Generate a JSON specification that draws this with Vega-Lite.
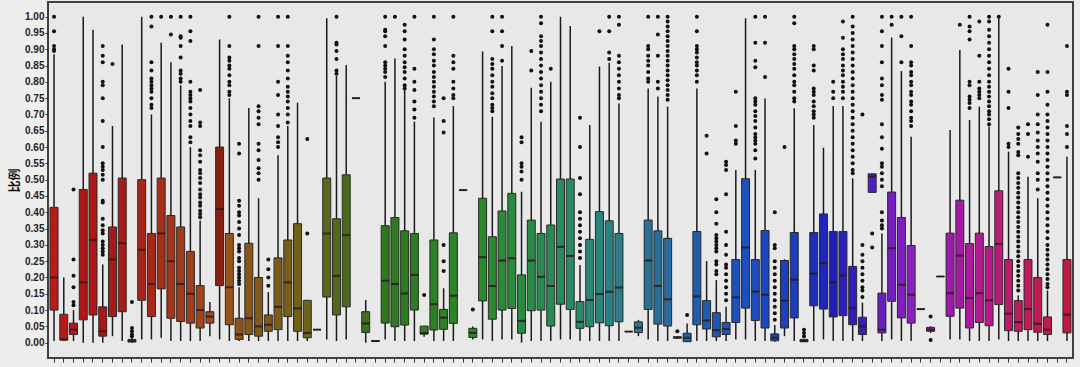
{
"$schema": "https://vega.github.io/schema/vega-lite/v6.json",
"width": 1025, "height": 356,
"autosize": {"type": "none"},
"padding": {"left": 48, "top": 2, "right": 7, "bottom": 9},
"background": "#eeeeec",
"config": {"view": {"fill": "#e8e8e8", "stroke": "#404040", "strokeWidth": 2},
"axisY": {"tickCount": 21, "labelOverlap": false, "labelFont": "Liberation Sans", "labelFontSize": 10, "labelFontWeight": "bold", "labelColor": "#222222", "tickSize": 3, "labelPadding": 1, "tickColor": "#333333", "domain": false, "grid": false, "format": ".2f"}},
"datasets": {
"boxes": [
{"id":1,"lo":0.005,"q1":0.10,"med":0.20,"q3":0.415,"hi":0.885},
{"id":2,"lo":0.005,"q1":0.008,"med":0.01,"q3":0.087,"hi":0.20},
{"id":3,"lo":0.005,"q1":0.025,"med":0.04,"q3":0.06,"hi":0.10},
{"id":4,"lo":0.0,"q1":0.07,"med":0.185,"q3":0.47,"hi":1.0},
{"id":5,"lo":0.0,"q1":0.085,"med":0.315,"q3":0.52,"hi":0.96},
{"id":6,"lo":0.0,"q1":0.02,"med":0.035,"q3":0.11,"hi":0.24},
{"id":7,"lo":0.02,"q1":0.08,"med":0.255,"q3":0.355,"hi":0.665},
{"id":8,"lo":0.005,"q1":0.095,"med":0.305,"q3":0.505,"hi":0.915},
{"id":9,"lo":0.0,"q1":0.002,"med":0.005,"q3":0.01,"hi":0.015},
{"id":10,"lo":0.01,"q1":0.13,"med":0.285,"q3":0.50,"hi":1.0},
{"id":11,"lo":0.01,"q1":0.08,"med":0.18,"q3":0.335,"hi":0.70},
{"id":12,"lo":0.015,"q1":0.165,"med":0.335,"q3":0.505,"hi":0.92},
{"id":13,"lo":0.005,"q1":0.075,"med":0.25,"q3":0.39,"hi":0.86},
{"id":14,"lo":0.005,"q1":0.065,"med":0.18,"q3":0.355,"hi":0.79},
{"id":15,"lo":0.005,"q1":0.06,"med":0.15,"q3":0.28,"hi":0.60},
{"id":16,"lo":0.005,"q1":0.045,"med":0.10,"q3":0.175,"hi":0.375},
{"id":17,"lo":0.02,"q1":0.06,"med":0.08,"q3":0.095,"hi":0.125},
{"id":18,"lo":0.01,"q1":0.175,"med":0.41,"q3":0.60,"hi":0.93},
{"id":19,"lo":0.005,"q1":0.055,"med":0.17,"q3":0.335,"hi":0.75},
{"id":20,"lo":0.005,"q1":0.01,"med":0.025,"q3":0.075,"hi":0.17},
{"id":21,"lo":0.005,"q1":0.025,"med":0.075,"q3":0.305,"hi":0.72},
{"id":22,"lo":0.005,"q1":0.02,"med":0.05,"q3":0.20,"hi":0.443},
{"id":23,"lo":0.005,"q1":0.035,"med":0.055,"q3":0.085,"hi":0.155},
{"id":24,"lo":0.005,"q1":0.04,"med":0.11,"q3":0.26,"hi":0.575},
{"id":25,"lo":0.005,"q1":0.08,"med":0.185,"q3":0.315,"hi":0.665},
{"id":26,"lo":0.005,"q1":0.035,"med":0.105,"q3":0.365,"hi":0.736},
{"id":27,"lo":0.005,"q1":0.015,"med":0.03,"q3":0.13,"hi":0.13},
{"id":28,"lo":0.04,"q1":0.04,"med":0.04,"q3":0.04,"hi":0.04},
{"id":29,"lo":0.01,"q1":0.14,"med":0.335,"q3":0.505,"hi":0.995},
{"id":30,"lo":0.005,"q1":0.085,"med":0.205,"q3":0.38,"hi":0.818},
{"id":31,"lo":0.01,"q1":0.11,"med":0.33,"q3":0.515,"hi":0.852},
{"id":32,"lo":0.75,"q1":0.75,"med":0.75,"q3":0.75,"hi":0.75},
{"id":33,"lo":0.0,"q1":0.031,"med":0.059,"q3":0.095,"hi":0.131},
{"id":34,"lo":0.004,"q1":0.004,"med":0.005,"q3":0.006,"hi":0.006},
{"id":35,"lo":0.01,"q1":0.06,"med":0.19,"q3":0.359,"hi":0.80},
{"id":36,"lo":0.005,"q1":0.049,"med":0.18,"q3":0.384,"hi":0.872},
{"id":37,"lo":0.005,"q1":0.054,"med":0.151,"q3":0.343,"hi":0.775},
{"id":38,"lo":0.005,"q1":0.10,"med":0.208,"q3":0.335,"hi":0.678},
{"id":39,"lo":0.018,"q1":0.026,"med":0.03,"q3":0.051,"hi":0.051},
{"id":40,"lo":0.005,"q1":0.039,"med":0.118,"q3":0.315,"hi":0.691},
{"id":41,"lo":0.005,"q1":0.041,"med":0.077,"q3":0.102,"hi":0.167},
{"id":42,"lo":0.005,"q1":0.059,"med":0.144,"q3":0.337,"hi":0.726},
{"id":43,"lo":0.468,"q1":0.468,"med":0.468,"q3":0.468,"hi":0.468},
{"id":44,"lo":0.01,"q1":0.016,"med":0.03,"q3":0.044,"hi":0.05},
{"id":45,"lo":0.01,"q1":0.128,"med":0.262,"q3":0.443,"hi":0.893},
{"id":46,"lo":0.005,"q1":0.072,"med":0.174,"q3":0.325,"hi":0.693},
{"id":47,"lo":0.01,"q1":0.10,"med":0.252,"q3":0.404,"hi":0.849},
{"id":48,"lo":0.01,"q1":0.105,"med":0.259,"q3":0.458,"hi":0.91},
{"id":49,"lo":0.0,"q1":0.029,"med":0.067,"q3":0.208,"hi":0.463},
{"id":50,"lo":0.005,"q1":0.098,"med":0.252,"q3":0.376,"hi":0.782},
{"id":51,"lo":0.005,"q1":0.10,"med":0.202,"q3":0.335,"hi":0.678},
{"id":52,"lo":0.005,"q1":0.051,"med":0.174,"q3":0.361,"hi":0.80},
{"id":53,"lo":0.01,"q1":0.118,"med":0.294,"q3":0.502,"hi":1.0},
{"id":54,"lo":0.01,"q1":0.102,"med":0.266,"q3":0.502,"hi":0.971},
{"id":55,"lo":0.005,"q1":0.044,"med":0.064,"q3":0.126,"hi":0.238},
{"id":56,"lo":0.005,"q1":0.049,"med":0.131,"q3":0.317,"hi":0.668},
{"id":57,"lo":0.005,"q1":0.061,"med":0.149,"q3":0.402,"hi":0.847},
{"id":58,"lo":0.005,"q1":0.052,"med":0.156,"q3":0.374,"hi":0.859},
{"id":59,"lo":0.005,"q1":0.064,"med":0.169,"q3":0.335,"hi":0.734},
{"id":60,"lo":0.034,"q1":0.034,"med":0.034,"q3":0.034,"hi":0.034},
{"id":61,"lo":0.02,"q1":0.031,"med":0.046,"q3":0.064,"hi":0.07},
{"id":62,"lo":0.01,"q1":0.102,"med":0.252,"q3":0.376,"hi":0.78},
{"id":63,"lo":0.005,"q1":0.057,"med":0.174,"q3":0.343,"hi":0.755},
{"id":64,"lo":0.005,"q1":0.051,"med":0.133,"q3":0.32,"hi":0.724},
{"id":65,"lo":0.012,"q1":0.014,"med":0.016,"q3":0.018,"hi":0.02},
{"id":66,"lo":0.003,"q1":0.003,"med":0.015,"q3":0.029,"hi":0.059},
{"id":67,"lo":0.005,"q1":0.055,"med":0.142,"q3":0.341,"hi":0.78},
{"id":68,"lo":0.005,"q1":0.042,"med":0.068,"q3":0.129,"hi":0.25},
{"id":69,"lo":0.005,"q1":0.018,"med":0.038,"q3":0.092,"hi":0.192},
{"id":70,"lo":0.005,"q1":0.025,"med":0.042,"q3":0.062,"hi":0.11},
{"id":71,"lo":0.01,"q1":0.062,"med":0.139,"q3":0.255,"hi":0.53},
{"id":72,"lo":0.01,"q1":0.106,"med":0.292,"q3":0.503,"hi":0.995},
{"id":73,"lo":0.005,"q1":0.068,"med":0.157,"q3":0.255,"hi":0.53},
{"id":74,"lo":0.005,"q1":0.045,"med":0.147,"q3":0.344,"hi":0.749},
{"id":75,"lo":0.003,"q1":0.006,"med":0.015,"q3":0.027,"hi":0.054},
{"id":76,"lo":0.02,"q1":0.045,"med":0.129,"q3":0.252,"hi":0.256},
{"id":77,"lo":0.005,"q1":0.076,"med":0.193,"q3":0.338,"hi":0.719},
{"id":78,"lo":0.002,"q1":0.003,"med":0.005,"q3":0.01,"hi":0.012},
{"id":79,"lo":0.005,"q1":0.113,"med":0.212,"q3":0.338,"hi":0.668},
{"id":80,"lo":0.01,"q1":0.103,"med":0.244,"q3":0.395,"hi":0.598},
{"id":81,"lo":0.005,"q1":0.079,"med":0.185,"q3":0.341,"hi":0.726},
{"id":82,"lo":0.005,"q1":0.083,"med":0.206,"q3":0.341,"hi":0.726},
{"id":83,"lo":0.005,"q1":0.055,"med":0.106,"q3":0.234,"hi":0.504},
{"id":84,"lo":0.005,"q1":0.025,"med":0.05,"q3":0.078,"hi":0.123},
{"id":85,"lo":0.461,"q1":0.461,"med":0.51,"q3":0.518,"hi":0.518},
{"id":86,"lo":0.005,"q1":0.030,"med":0.040,"q3":0.152,"hi":0.335},
{"id":87,"lo":0.01,"q1":0.127,"med":0.290,"q3":0.462,"hi":0.936},
{"id":88,"lo":0.005,"q1":0.076,"med":0.178,"q3":0.384,"hi":0.833},
{"id":89,"lo":0.005,"q1":0.060,"med":0.147,"q3":0.298,"hi":0.632},
{"id":90,"lo":0.103,"q1":0.103,"med":0.103,"q3":0.103,"hi":0.103},
{"id":91,"lo":0.03,"q1":0.035,"med":0.04,"q3":0.047,"hi":0.05},
{"id":92,"lo":0.203,"q1":0.203,"med":0.203,"q3":0.203,"hi":0.203},
{"id":93,"lo":0.01,"q1":0.081,"med":0.152,"q3":0.336,"hi":0.652},
{"id":94,"lo":0.01,"q1":0.106,"med":0.267,"q3":0.437,"hi":0.898},
{"id":95,"lo":0.005,"q1":0.045,"med":0.137,"q3":0.304,"hi":0.683},
{"id":96,"lo":0.005,"q1":0.062,"med":0.152,"q3":0.336,"hi":0.724},
{"id":97,"lo":0.005,"q1":0.052,"med":0.130,"q3":0.295,"hi":0.663},
{"id":98,"lo":0.01,"q1":0.117,"med":0.303,"q3":0.466,"hi":0.995},
{"id":99,"lo":0.005,"q1":0.037,"med":0.089,"q3":0.255,"hi":0.586},
{"id":100,"lo":0.005,"q1":0.035,"med":0.063,"q3":0.129,"hi":0.145},
{"id":101,"lo":0.005,"q1":0.040,"med":0.103,"q3":0.255,"hi":0.509},
{"id":102,"lo":0.005,"q1":0.032,"med":0.058,"q3":0.200,"hi":0.443},
{"id":103,"lo":0.005,"q1":0.025,"med":0.040,"q3":0.079,"hi":0.16},
{"id":104,"lo":0.507,"q1":0.507,"med":0.507,"q3":0.507,"hi":0.507},
{"id":105,"lo":0.005,"q1":0.030,"med":0.086,"q3":0.255,"hi":0.57}
],
"outs": [
{"id":1,"v":1.0},{"id":1,"v":0.955},{"id":1,"v":0.91},{"id":1,"v":0.90},{"id":1,"v":0.895},
{"id":3,"v":0.47},{"id":3,"v":0.255},{"id":3,"v":0.205},{"id":3,"v":0.17},{"id":3,"v":0.125},{"id":3,"v":0.115},
{"id":6,"v":0.91},{"id":6,"v":0.88},{"id":6,"v":0.86},{"id":6,"v":0.80},{"id":6,"v":0.79},{"id":6,"v":0.75},{"id":6,"v":0.68},{"id":6,"v":0.60},{"id":6,"v":0.55},{"id":6,"v":0.54},{"id":6,"v":0.53},{"id":6,"v":0.515},{"id":6,"v":0.50},{"id":6,"v":0.435},{"id":6,"v":0.43},{"id":6,"v":0.38},{"id":6,"v":0.36},{"id":6,"v":0.345},{"id":6,"v":0.335},{"id":6,"v":0.31},{"id":6,"v":0.30},{"id":6,"v":0.29},{"id":6,"v":0.28},{"id":6,"v":0.27},
{"id":7,"v":0.855},
{"id":9,"v":0.125},{"id":9,"v":0.045},{"id":9,"v":0.035},{"id":9,"v":0.025},{"id":9,"v":0.02},
{"id":11,"v":1.0},{"id":11,"v":0.97},{"id":11,"v":0.86},{"id":11,"v":0.835},{"id":11,"v":0.81},{"id":11,"v":0.80},{"id":11,"v":0.79},{"id":11,"v":0.78},{"id":11,"v":0.77},{"id":11,"v":0.75},{"id":11,"v":0.73},{"id":11,"v":0.72},
{"id":12,"v":1.0},
{"id":13,"v":1.0},{"id":13,"v":0.945},
{"id":14,"v":1.0},{"id":14,"v":0.94},{"id":14,"v":0.935},{"id":14,"v":0.91},{"id":14,"v":0.875},{"id":14,"v":0.835},{"id":14,"v":0.825},{"id":14,"v":0.81},{"id":14,"v":0.80},
{"id":15,"v":1.0},{"id":15,"v":0.955},{"id":15,"v":0.925},{"id":15,"v":0.80},{"id":15,"v":0.77},{"id":15,"v":0.76},{"id":15,"v":0.75},{"id":15,"v":0.74},{"id":15,"v":0.72},{"id":15,"v":0.70},{"id":15,"v":0.68},{"id":15,"v":0.665},{"id":15,"v":0.63},{"id":15,"v":0.615},
{"id":16,"v":0.775},{"id":16,"v":0.675},{"id":16,"v":0.665},{"id":16,"v":0.59},{"id":16,"v":0.575},{"id":16,"v":0.555},{"id":16,"v":0.53},{"id":16,"v":0.52},{"id":16,"v":0.505},{"id":16,"v":0.49},{"id":16,"v":0.47},{"id":16,"v":0.455},{"id":16,"v":0.445},{"id":16,"v":0.43},{"id":16,"v":0.42},{"id":16,"v":0.405},{"id":16,"v":0.395},{"id":16,"v":0.385},
{"id":19,"v":1.0},{"id":19,"v":0.91},{"id":19,"v":0.875},{"id":19,"v":0.865},{"id":19,"v":0.85},{"id":19,"v":0.84},{"id":19,"v":0.82},{"id":19,"v":0.80},{"id":19,"v":0.79},{"id":19,"v":0.77},{"id":19,"v":0.76},
{"id":20,"v":0.61},{"id":20,"v":0.58},{"id":20,"v":0.435},{"id":20,"v":0.42},{"id":20,"v":0.40},{"id":20,"v":0.39},{"id":20,"v":0.37},{"id":20,"v":0.35},{"id":20,"v":0.33},{"id":20,"v":0.30},{"id":20,"v":0.29},{"id":20,"v":0.28},{"id":20,"v":0.26},{"id":20,"v":0.25},{"id":20,"v":0.23},{"id":20,"v":0.22},{"id":20,"v":0.21},{"id":20,"v":0.20},{"id":20,"v":0.19},{"id":20,"v":0.18},
{"id":22,"v":1.0},{"id":22,"v":0.91},{"id":22,"v":0.725},{"id":22,"v":0.71},{"id":22,"v":0.69},{"id":22,"v":0.67},{"id":22,"v":0.61},{"id":22,"v":0.59},{"id":22,"v":0.56},{"id":22,"v":0.535},{"id":22,"v":0.52},{"id":22,"v":0.50},
{"id":23,"v":0.255},{"id":23,"v":0.225},{"id":23,"v":0.20},{"id":23,"v":0.175},
{"id":24,"v":1.0},{"id":24,"v":0.91},{"id":24,"v":0.80},{"id":24,"v":0.76},{"id":24,"v":0.70},{"id":24,"v":0.665},{"id":24,"v":0.63},{"id":24,"v":0.615},{"id":24,"v":0.60},
{"id":25,"v":1.0},{"id":25,"v":0.91},{"id":25,"v":0.88},{"id":25,"v":0.86},{"id":25,"v":0.835},{"id":25,"v":0.81},{"id":25,"v":0.785},{"id":25,"v":0.77},{"id":25,"v":0.755},{"id":25,"v":0.74},{"id":25,"v":0.72},{"id":25,"v":0.70},{"id":25,"v":0.675},
{"id":27,"v":0.625},{"id":27,"v":0.335},
{"id":30,"v":1.0},{"id":30,"v":0.92},{"id":30,"v":0.915},{"id":30,"v":0.895},{"id":30,"v":0.87},{"id":30,"v":0.835},{"id":30,"v":0.825},
{"id":35,"v":1.0},{"id":35,"v":0.96},{"id":35,"v":0.955},{"id":35,"v":0.94},{"id":35,"v":0.91},{"id":35,"v":0.86},{"id":35,"v":0.85},{"id":35,"v":0.84},{"id":35,"v":0.83},{"id":35,"v":0.815},
{"id":36,"v":1.0},
{"id":37,"v":0.975},{"id":37,"v":0.955},{"id":37,"v":0.93},{"id":37,"v":0.90},{"id":37,"v":0.88},{"id":37,"v":0.86},{"id":37,"v":0.845},{"id":37,"v":0.83},{"id":37,"v":0.81},{"id":37,"v":0.79},{"id":37,"v":0.78},
{"id":38,"v":1.0},{"id":38,"v":0.84},{"id":38,"v":0.80},{"id":38,"v":0.775},{"id":38,"v":0.74},{"id":38,"v":0.715},{"id":38,"v":0.69},
{"id":39,"v":0.146},
{"id":40,"v":1.0},{"id":40,"v":0.93},{"id":40,"v":0.90},{"id":40,"v":0.885},{"id":40,"v":0.865},{"id":40,"v":0.85},{"id":40,"v":0.83},{"id":40,"v":0.815},{"id":40,"v":0.80},{"id":40,"v":0.785},{"id":40,"v":0.77},{"id":40,"v":0.755},{"id":40,"v":0.74},{"id":40,"v":0.725},
{"id":41,"v":0.75},{"id":41,"v":0.68},{"id":41,"v":0.645},{"id":41,"v":0.30},{"id":41,"v":0.25},{"id":41,"v":0.22},
{"id":42,"v":1.0},{"id":42,"v":0.88},{"id":42,"v":0.86},{"id":42,"v":0.84},{"id":42,"v":0.80},{"id":42,"v":0.78},{"id":42,"v":0.76},{"id":42,"v":0.75},
{"id":44,"v":0.102},
{"id":46,"v":1.0},{"id":46,"v":0.955},{"id":46,"v":0.87},{"id":46,"v":0.855},{"id":46,"v":0.84},{"id":46,"v":0.82},{"id":46,"v":0.80},{"id":46,"v":0.785},{"id":46,"v":0.765},{"id":46,"v":0.75},{"id":46,"v":0.73},{"id":46,"v":0.72},{"id":46,"v":0.71},
{"id":47,"v":1.0},{"id":47,"v":0.955},{"id":47,"v":0.91},{"id":47,"v":0.865},
{"id":49,"v":0.63},{"id":49,"v":0.615},{"id":49,"v":0.55},{"id":49,"v":0.54},{"id":49,"v":0.525},{"id":49,"v":0.50},
{"id":50,"v":0.895},{"id":50,"v":0.835},
{"id":51,"v":1.0},{"id":51,"v":0.98},{"id":51,"v":0.94},{"id":51,"v":0.925},{"id":51,"v":0.91},{"id":51,"v":0.89},{"id":51,"v":0.87},{"id":51,"v":0.85},{"id":51,"v":0.83},{"id":51,"v":0.81},{"id":51,"v":0.79},{"id":51,"v":0.77},{"id":51,"v":0.75},{"id":51,"v":0.73},{"id":51,"v":0.71},
{"id":52,"v":0.84},
{"id":55,"v":0.69},{"id":55,"v":0.60},{"id":55,"v":0.505},{"id":55,"v":0.455},{"id":55,"v":0.40},{"id":55,"v":0.38},{"id":55,"v":0.36},{"id":55,"v":0.34},{"id":55,"v":0.32},{"id":55,"v":0.30},{"id":55,"v":0.28},{"id":55,"v":0.26},
{"id":57,"v":0.955},
{"id":58,"v":1.0},{"id":58,"v":0.955},{"id":58,"v":0.89},{"id":58,"v":0.87},
{"id":59,"v":1.0},{"id":59,"v":0.975},{"id":59,"v":0.88},{"id":59,"v":0.86},{"id":59,"v":0.84},{"id":59,"v":0.82},{"id":59,"v":0.80},{"id":59,"v":0.78},{"id":59,"v":0.76},{"id":59,"v":0.75},
{"id":62,"v":1.0},{"id":62,"v":0.91},{"id":62,"v":0.90},{"id":62,"v":0.88},{"id":62,"v":0.865},{"id":62,"v":0.85},{"id":62,"v":0.83},{"id":62,"v":0.81},{"id":62,"v":0.80},
{"id":63,"v":1.0},{"id":63,"v":0.945},{"id":63,"v":0.88},{"id":63,"v":0.80},{"id":63,"v":0.78},
{"id":64,"v":1.0},{"id":64,"v":0.985},{"id":64,"v":0.97},{"id":64,"v":0.955},{"id":64,"v":0.94},{"id":64,"v":0.925},{"id":64,"v":0.91},{"id":64,"v":0.895},{"id":64,"v":0.88},{"id":64,"v":0.865},{"id":64,"v":0.85},{"id":64,"v":0.835},{"id":64,"v":0.82},{"id":64,"v":0.805},{"id":64,"v":0.79},{"id":64,"v":0.775},{"id":64,"v":0.76},{"id":64,"v":0.745},
{"id":65,"v":0.035},
{"id":66,"v":0.085},
{"id":67,"v":1.0},{"id":67,"v":0.955},{"id":67,"v":0.91},{"id":67,"v":0.90},{"id":67,"v":0.89},{"id":67,"v":0.875},{"id":67,"v":0.86},{"id":67,"v":0.85},{"id":67,"v":0.835},{"id":67,"v":0.82},{"id":67,"v":0.80},
{"id":68,"v":0.635},{"id":68,"v":0.58},
{"id":69,"v":0.44},{"id":69,"v":0.40},{"id":69,"v":0.365},{"id":69,"v":0.33},{"id":69,"v":0.32},{"id":69,"v":0.31},{"id":69,"v":0.30},{"id":69,"v":0.29},{"id":69,"v":0.28},{"id":69,"v":0.25},{"id":69,"v":0.24},{"id":69,"v":0.22},{"id":69,"v":0.21},
{"id":70,"v":0.555},{"id":70,"v":0.545},{"id":70,"v":0.53},{"id":70,"v":0.455},{"id":70,"v":0.34},{"id":70,"v":0.30},{"id":70,"v":0.27},{"id":70,"v":0.24},{"id":70,"v":0.23},{"id":70,"v":0.21},{"id":70,"v":0.19},{"id":70,"v":0.17},{"id":70,"v":0.15},{"id":70,"v":0.13},
{"id":71,"v":0.77},{"id":71,"v":0.665},{"id":71,"v":0.62},{"id":71,"v":0.61},
{"id":73,"v":1.0},{"id":73,"v":0.92},{"id":73,"v":0.865},{"id":73,"v":0.845},{"id":73,"v":0.75},{"id":73,"v":0.74},{"id":73,"v":0.73},{"id":73,"v":0.71},{"id":73,"v":0.695},{"id":73,"v":0.68},{"id":73,"v":0.66},{"id":73,"v":0.64},{"id":73,"v":0.63},{"id":73,"v":0.62},{"id":73,"v":0.61},{"id":73,"v":0.59},{"id":73,"v":0.565},
{"id":74,"v":1.0},{"id":74,"v":0.92},{"id":74,"v":0.815},
{"id":75,"v":0.40},{"id":75,"v":0.30},{"id":75,"v":0.29},{"id":75,"v":0.25},{"id":75,"v":0.23},{"id":75,"v":0.21},{"id":75,"v":0.19},{"id":75,"v":0.17},{"id":75,"v":0.15},{"id":75,"v":0.13},{"id":75,"v":0.11},{"id":75,"v":0.09},{"id":75,"v":0.07},
{"id":76,"v":0.60},
{"id":77,"v":1.0},{"id":77,"v":0.98},{"id":77,"v":0.91},{"id":77,"v":0.90},{"id":77,"v":0.885},{"id":77,"v":0.87},{"id":77,"v":0.855},{"id":77,"v":0.84},{"id":77,"v":0.82},{"id":77,"v":0.80},{"id":77,"v":0.79},{"id":77,"v":0.77},{"id":77,"v":0.75},{"id":77,"v":0.74},
{"id":78,"v":0.04},{"id":78,"v":0.03},{"id":78,"v":0.02},
{"id":79,"v":0.91},{"id":79,"v":0.90},{"id":79,"v":0.85},{"id":79,"v":0.835},{"id":79,"v":0.78},{"id":79,"v":0.77},{"id":79,"v":0.76},{"id":79,"v":0.74},{"id":79,"v":0.725},{"id":79,"v":0.71},{"id":79,"v":0.70},{"id":79,"v":0.69},
{"id":81,"v":0.80},{"id":81,"v":0.77},{"id":81,"v":0.75},
{"id":82,"v":0.985},{"id":82,"v":0.935},{"id":82,"v":0.90},{"id":82,"v":0.885},{"id":82,"v":0.87},{"id":82,"v":0.85},{"id":82,"v":0.835},{"id":82,"v":0.82},{"id":82,"v":0.80},{"id":82,"v":0.785},{"id":82,"v":0.77},{"id":82,"v":0.75},
{"id":83,"v":1.0},{"id":83,"v":0.97},{"id":83,"v":0.95},{"id":83,"v":0.93},{"id":83,"v":0.91},{"id":83,"v":0.89},{"id":83,"v":0.87},{"id":83,"v":0.85},{"id":83,"v":0.83},{"id":83,"v":0.81},{"id":83,"v":0.79},{"id":83,"v":0.77},{"id":83,"v":0.75},{"id":83,"v":0.73},{"id":83,"v":0.71},{"id":83,"v":0.69},{"id":83,"v":0.67},{"id":83,"v":0.65},{"id":83,"v":0.63},{"id":83,"v":0.61},{"id":83,"v":0.59},{"id":83,"v":0.57},{"id":83,"v":0.55},{"id":83,"v":0.53},{"id":83,"v":0.52},
{"id":84,"v":0.70},{"id":84,"v":0.30},{"id":84,"v":0.27},{"id":84,"v":0.25},{"id":84,"v":0.23},{"id":84,"v":0.21},{"id":84,"v":0.19},{"id":84,"v":0.17},{"id":84,"v":0.16},{"id":84,"v":0.14},
{"id":85,"v":0.335},{"id":85,"v":0.292},
{"id":86,"v":1.0},{"id":86,"v":0.955},{"id":86,"v":0.91},{"id":86,"v":0.86},{"id":86,"v":0.81},{"id":86,"v":0.79},{"id":86,"v":0.76},{"id":86,"v":0.745},{"id":86,"v":0.67},{"id":86,"v":0.63},{"id":86,"v":0.595},{"id":86,"v":0.55},{"id":86,"v":0.54},{"id":86,"v":0.52},{"id":86,"v":0.50},{"id":86,"v":0.48},{"id":86,"v":0.40},{"id":86,"v":0.375},{"id":86,"v":0.36},{"id":86,"v":0.35},
{"id":87,"v":1.0},{"id":87,"v":0.975},
{"id":88,"v":1.0},{"id":88,"v":0.94},{"id":88,"v":0.86},
{"id":89,"v":1.0},{"id":89,"v":0.91},{"id":89,"v":0.86},{"id":89,"v":0.85},{"id":89,"v":0.83},{"id":89,"v":0.82},{"id":89,"v":0.80},{"id":89,"v":0.79},{"id":89,"v":0.77},{"id":89,"v":0.76},{"id":89,"v":0.74},{"id":89,"v":0.73},{"id":89,"v":0.71},{"id":89,"v":0.69},{"id":89,"v":0.68},{"id":89,"v":0.665},
{"id":91,"v":0.08},{"id":91,"v":0.008},
{"id":94,"v":0.975},
{"id":95,"v":1.0},{"id":95,"v":0.97},{"id":95,"v":0.955},{"id":95,"v":0.93},{"id":95,"v":0.80},{"id":95,"v":0.79},{"id":95,"v":0.755},{"id":95,"v":0.745},{"id":95,"v":0.735},{"id":95,"v":0.72},
{"id":96,"v":0.985},{"id":96,"v":0.88},{"id":96,"v":0.80},{"id":96,"v":0.78},{"id":96,"v":0.77},{"id":96,"v":0.76},{"id":96,"v":0.75},
{"id":97,"v":1.0},{"id":97,"v":0.985},{"id":97,"v":0.96},{"id":97,"v":0.94},{"id":97,"v":0.92},{"id":97,"v":0.90},{"id":97,"v":0.88},{"id":97,"v":0.86},{"id":97,"v":0.84},{"id":97,"v":0.82},{"id":97,"v":0.80},{"id":97,"v":0.785},{"id":97,"v":0.77},{"id":97,"v":0.755},{"id":97,"v":0.74},{"id":97,"v":0.725},{"id":97,"v":0.71},{"id":97,"v":0.70},{"id":97,"v":0.685},{"id":97,"v":0.67},
{"id":98,"v":1.0},
{"id":99,"v":0.84},{"id":99,"v":0.77},{"id":99,"v":0.72},{"id":99,"v":0.61},{"id":99,"v":0.60},
{"id":100,"v":0.66},{"id":100,"v":0.64},{"id":100,"v":0.625},{"id":100,"v":0.61},{"id":100,"v":0.585},{"id":100,"v":0.575},{"id":100,"v":0.52},{"id":100,"v":0.505},{"id":100,"v":0.49},{"id":100,"v":0.475},{"id":100,"v":0.46},{"id":100,"v":0.445},{"id":100,"v":0.43},{"id":100,"v":0.415},{"id":100,"v":0.40},{"id":100,"v":0.385},{"id":100,"v":0.37},{"id":100,"v":0.355},{"id":100,"v":0.34},{"id":100,"v":0.325},{"id":100,"v":0.31},{"id":100,"v":0.295},{"id":100,"v":0.28},{"id":100,"v":0.265},{"id":100,"v":0.25},{"id":100,"v":0.235},{"id":100,"v":0.22},{"id":100,"v":0.205},{"id":100,"v":0.19},{"id":100,"v":0.175},{"id":100,"v":0.16},
{"id":101,"v":0.67},{"id":101,"v":0.64},{"id":101,"v":0.57},
{"id":102,"v":0.83},{"id":102,"v":0.76},{"id":102,"v":0.70},{"id":102,"v":0.67},{"id":102,"v":0.645},{"id":102,"v":0.62},{"id":102,"v":0.60},{"id":102,"v":0.58},{"id":102,"v":0.555},{"id":102,"v":0.52},{"id":102,"v":0.50},{"id":102,"v":0.47},
{"id":103,"v":0.975},{"id":103,"v":0.83},{"id":103,"v":0.77},{"id":103,"v":0.73},{"id":103,"v":0.70},{"id":103,"v":0.68},{"id":103,"v":0.66},{"id":103,"v":0.64},{"id":103,"v":0.62},{"id":103,"v":0.60},{"id":103,"v":0.58},{"id":103,"v":0.56},{"id":103,"v":0.54},{"id":103,"v":0.52},{"id":103,"v":0.50},{"id":103,"v":0.48},{"id":103,"v":0.46},{"id":103,"v":0.44},{"id":103,"v":0.42},{"id":103,"v":0.40},{"id":103,"v":0.38},{"id":103,"v":0.36},{"id":103,"v":0.34},{"id":103,"v":0.32},{"id":103,"v":0.30},{"id":103,"v":0.285},{"id":103,"v":0.27},{"id":103,"v":0.255},{"id":103,"v":0.24},{"id":103,"v":0.225},{"id":103,"v":0.21},{"id":103,"v":0.195},{"id":103,"v":0.18},{"id":103,"v":0.17},
{"id":105,"v":0.91},{"id":105,"v":0.77},{"id":105,"v":0.76},{"id":105,"v":0.665},{"id":105,"v":0.64},{"id":105,"v":0.60}
]
},
"layer": [
{
"data": {"name": "boxes"},
"mark": {"type": "rule", "color": "#1a1a1a", "strokeWidth": 1.5},
"encoding": {
"x": {"field": "id", "type": "ordinal", "scale": {"type": "band", "paddingInner": 0.18, "paddingOuter": 0.21},
"axis": {"labels": false, "title": null, "domain": false, "ticks": true, "tickSize": 4, "tickColor": "#333333", "tickWidth": 1, "grid": false}},
"y": {"field": "lo", "type": "quantitative",
"scale": {"domain": [-0.047, 1.045], "nice": false, "zero": false},
"axis": {"title": "比例", "values": [0,0.05,0.1,0.15,0.2,0.25,0.3,0.35,0.4,0.45,0.5,0.55,0.6,0.65,0.7,0.75,0.8,0.85,0.9,0.95,1.0],
"tickCount": 21, "labelOverlap": false,
"titleFont": "Noto Sans CJK SC", "titleFontSize": 12, "titleFontWeight": "bold", "titleColor": "#111111",
"titleX": -34, "titleY": 178, "titleAngle": -90, "titleBaseline": "middle", "titleAlign": "center"}},
"y2": {"field": "hi"}
}
},
{
"data": {"name": "boxes"},
"mark": {"type": "bar", "stroke": "#2a2a2a", "strokeWidth": 1, "opacity": 1},
"encoding": {
"x": {"field": "id", "type": "ordinal"},
"y": {"field": "q1", "type": "quantitative", "axis": {"title": "比例", "values": [0,0.05,0.1,0.15,0.2,0.25,0.3,0.35,0.4,0.45,0.5,0.55,0.6,0.65,0.7,0.75,0.8,0.85,0.9,0.95,1.0], "tickCount": 21, "labelOverlap": false}},
"y2": {"field": "q3"},
"color": {"field": "id", "type": "quantitative", "legend": null,
"scale": {"interpolate": "rgb",
"domain": [1, 6, 10, 17, 18, 19, 20, 24, 28, 31, 35, 45, 50, 55, 59, 64, 67, 72, 77, 81, 84, 86, 89, 93, 97, 100, 105],
"range": ["#bb1a1a", "#a81616", "#a82418", "#a04a1c", "#862010", "#9a5218", "#8c5418", "#7c5c18", "#66661a", "#4a6a1a", "#2e781e", "#2a8a2a", "#2a8a48", "#2a8a6c", "#2a7e8a", "#2a6a9c", "#1e5cac", "#1e50bc", "#1a3cc0", "#2020b8", "#3a1cc0", "#6a1ec0", "#8a20c0", "#a018b0", "#b81a88", "#c01a60", "#c01a40"]}}
}
},
{
"data": {"name": "boxes"},
"mark": {"type": "tick", "color": "#2a1a1a", "thickness": 2, "size": 8, "opacity": 0.85},
"encoding": {
"x": {"field": "id", "type": "ordinal"},
"y": {"field": "med", "type": "quantitative", "axis": {"title": "比例", "values": [0,0.05,0.1,0.15,0.2,0.25,0.3,0.35,0.4,0.45,0.5,0.55,0.6,0.65,0.7,0.75,0.8,0.85,0.9,0.95,1.0], "tickCount": 21, "labelOverlap": false}}
}
},
{
"data": {"name": "outs"},
"mark": {"type": "circle", "color": "#111111", "size": 16, "opacity": 1},
"encoding": {
"x": {"field": "id", "type": "ordinal"},
"y": {"field": "v", "type": "quantitative", "axis": {"title": "比例", "values": [0,0.05,0.1,0.15,0.2,0.25,0.3,0.35,0.4,0.45,0.5,0.55,0.6,0.65,0.7,0.75,0.8,0.85,0.9,0.95,1.0], "tickCount": 21, "labelOverlap": false}}
}
}
]
}
